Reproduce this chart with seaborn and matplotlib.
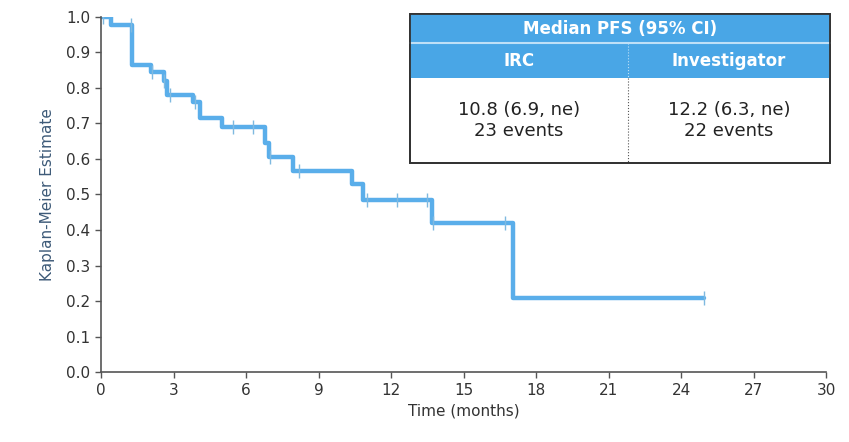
import matplotlib
matplotlib.use("Agg")
import matplotlib.pyplot as plt
import seaborn as sns
import pandas as pd

# Kaplan-Meier step curve (time in months, survival estimate)
step_times = [0.0, 0.4, 1.3, 2.05, 2.6, 2.75, 3.8, 4.1, 5.0, 6.8, 6.95, 7.95, 10.4, 10.85, 13.7, 17.05, 24.95]
step_surv = [1.0, 0.978, 0.865, 0.845, 0.82, 0.78, 0.76, 0.715, 0.69, 0.645, 0.605, 0.567, 0.53, 0.485, 0.42, 0.208, 0.208]

# censored observations
cens_times = [0.1, 1.25, 2.1, 2.6, 2.85, 3.9, 5.45, 6.3, 7.0, 8.2, 11.0, 12.25, 13.5, 13.75, 16.7, 24.95]

x_ticks = [0, 3, 6, 9, 12, 15, 18, 21, 24, 27, 30]
y_ticks = [0.0, 0.1, 0.2, 0.3, 0.4, 0.5, 0.6, 0.7, 0.8, 0.9, 1.0]

table_title = "Median PFS (95% CI)"
table_cols = ["IRC", "Investigator"]
table_vals = ["10.8 (6.9, ne)\n23 events", "12.2 (6.3, ne)\n22 events"]


def surv_at(t):
    s = step_surv[0]
    for tt, ss in zip(step_times, step_surv):
        if tt <= t:
            s = ss
    return s


km = pd.DataFrame({"time": step_times, "surv": step_surv})
cens = pd.DataFrame({"time": cens_times, "surv": [surv_at(t) for t in cens_times]})

sns.set_style("white")
plt.rcParams["font.family"] = ["DejaVu Sans"]

line_col = "#5aaeea"
fig = plt.figure(figsize=(8.49, 4.42), dpi=100)
ax = fig.add_axes([0.119, 0.158, 0.854, 0.804])

sns.lineplot(data=km, x="time", y="surv", drawstyle="steps-post",
             color=line_col, linewidth=3.2, ax=ax)
sns.scatterplot(data=cens, x="time", y="surv", marker="|", s=90,
                color="#7fb9e0", linewidth=1.0, ax=ax, zorder=3)

ax.set_xlim(0, 30)
ax.set_ylim(0, 1.0)
ax.set_xticks(x_ticks)
ax.set_yticks(y_ticks)
ax.set_xticklabels([str(t) for t in x_ticks])
ax.set_yticklabels([f"{t:.1f}" for t in y_ticks])
ax.tick_params(axis="both", direction="out", length=4, width=1, color="#555555",
               labelsize=11, labelcolor="#333333", left=True, bottom=True)
ax.set_xlabel("Time (months)", fontsize=11, color="#333333")
ax.set_ylabel("Kaplan-Meier Estimate", fontsize=11, color="#3d5a78", labelpad=8)
for side in ["top", "right"]:
    ax.spines[side].set_visible(False)
for side in ["left", "bottom"]:
    ax.spines[side].set_color("#555555")
    ax.spines[side].set_linewidth(1.2)
    ax.spines[side].set_position(("outward", 0))
ax.spines["left"].set_bounds(0, 1.0)

# summary table in figure pixel coordinates
W, H = 849, 442
x0, x1, xm = 410, 830, 628
y_top, y_h1, y_h2, y_bot = 14, 43, 78, 163
hdr = "#49a6e6"


def fx(px):
    return px / W


def fy(py):
    return 1 - py / H


fig.patches.append(plt.Rectangle((fx(x0), fy(y_bot)), fx(x1) - fx(x0), fy(y_top) - fy(y_bot),
                                 transform=fig.transFigure, facecolor="white",
                                 edgecolor="#333333", linewidth=1.3, zorder=5))
fig.patches.append(plt.Rectangle((fx(x0), fy(y_h2)), fx(x1) - fx(x0), fy(y_top) - fy(y_h2),
                                 transform=fig.transFigure, facecolor=hdr,
                                 edgecolor="none", zorder=6))
fig.lines.append(plt.Line2D([fx(x0), fx(x1)], [fy(y_h1), fy(y_h1)], transform=fig.transFigure,
                            color="#bfe0f7", linewidth=1.5, zorder=7))
fig.lines.append(plt.Line2D([fx(xm), fx(xm)], [fy(y_h1), fy(y_h2)], transform=fig.transFigure,
                            color="#bfe0f7", linewidth=0.8, linestyle=":", zorder=7))
fig.lines.append(plt.Line2D([fx(xm), fx(xm)], [fy(y_h2), fy(y_bot)], transform=fig.transFigure,
                            color="#555555", linewidth=0.8, linestyle=":", zorder=7))
fig.patches.append(plt.Rectangle((fx(x0), fy(y_bot)), fx(x1) - fx(x0), fy(y_top) - fy(y_bot),
                                 transform=fig.transFigure, facecolor="none",
                                 edgecolor="#333333", linewidth=1.3, zorder=8))

fig.text(fx((x0 + x1) / 2), fy((y_top + y_h1) / 2), table_title, ha="center", va="center",
         fontsize=12, color="white", fontweight="bold", zorder=9)
for cx, col, val in zip([(x0 + xm) / 2, (xm + x1) / 2], table_cols, table_vals):
    fig.text(fx(cx), fy((y_h1 + y_h2) / 2), col, ha="center", va="center",
             fontsize=12, color="white", fontweight="bold", zorder=9)
    fig.text(fx(cx), fy((y_h2 + y_bot) / 2), val, ha="center", va="center",
             fontsize=13, color="#222222", linespacing=1.25, zorder=9)

fig.savefig("out.png", dpi=100)
